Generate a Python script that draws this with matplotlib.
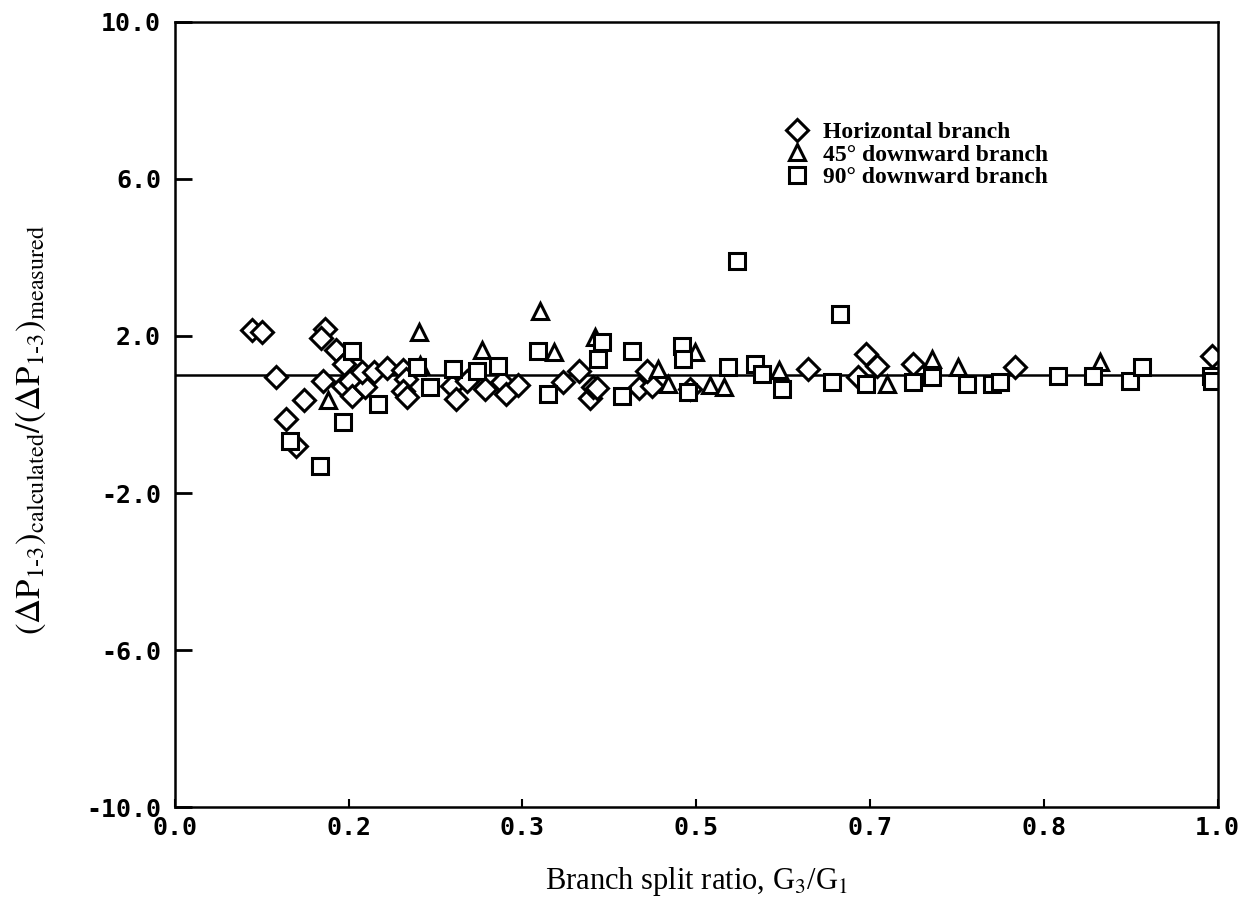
import matplotlib
matplotlib.use("Agg")
import matplotlib.pyplot as plt
import numpy as np

plt.rcParams['mathtext.fontset'] = 'stix'

# Horizontal branch
horiz_x = [0.074, 0.084, 0.097, 0.107, 0.116, 0.124, 0.142, 0.144, 0.140, 0.155,
           0.162, 0.161, 0.168, 0.170, 0.182, 0.179, 0.191, 0.203, 0.219, 0.222,
           0.219, 0.223, 0.266, 0.270, 0.280, 0.297, 0.314, 0.318, 0.329, 0.372,
           0.388, 0.398, 0.401, 0.405, 0.445, 0.458, 0.453, 0.494, 0.607, 0.655,
           0.663, 0.673, 0.708, 0.806, 0.995]
horiz_y = [2.15, 2.10, 0.95, -0.12, -0.79, 0.36, 0.85, 2.17, 1.94, 1.64,
           1.28, 0.72, 0.85, 0.46, 0.69, 1.08, 1.08, 1.18, 1.13, 0.90,
           0.59, 0.44, 0.72, 0.39, 0.85, 0.64, 0.82, 0.52, 0.74, 0.82,
           1.10, 0.41, 0.69, 0.67, 0.67, 0.72, 1.10, 0.64, 1.15, 0.95,
           1.54, 1.23, 1.28, 1.20, 1.48]

# 45 deg downward branch
down45_x = [0.147, 0.234, 0.235, 0.295, 0.350, 0.364, 0.403, 0.463, 0.473, 0.499,
            0.513, 0.527, 0.579, 0.683, 0.726, 0.751, 0.887]
down45_y = [0.36, 2.10, 1.26, 1.64, 2.63, 1.59, 1.97, 1.15, 0.77, 1.59,
            0.74, 0.69, 1.13, 0.77, 1.41, 1.20, 1.33]

# 90 deg downward branch
down90_x = [0.110, 0.139, 0.161, 0.170, 0.195, 0.232, 0.245, 0.267, 0.290, 0.310,
            0.348, 0.358, 0.406, 0.410, 0.438, 0.429, 0.486, 0.487, 0.492, 0.530,
            0.539, 0.556, 0.563, 0.582, 0.630, 0.638, 0.663, 0.708, 0.726, 0.760,
            0.784, 0.791, 0.847, 0.880, 0.916, 0.927, 0.994, 0.995]
down90_y = [-0.68, -1.30, -0.20, 1.61, 0.26, 1.20, 0.69, 1.15, 1.10, 1.23,
            1.61, 0.52, 1.41, 1.84, 1.61, 0.46, 1.74, 1.41, 0.57, 1.20,
            3.91, 1.28, 1.03, 0.64, 0.82, 2.56, 0.77, 0.82, 0.95, 0.77,
            0.77, 0.82, 0.97, 0.97, 0.85, 1.20, 0.97, 0.85]

xticks = [0, 1/6, 2/6, 3/6, 4/6, 5/6, 1.0]
xtick_labels = ['0.0', '0.2', '0.3', '0.5', '0.7', '0.8', '1.0']
yticks = [-10, -6, -2, 2, 6, 10]
ytick_labels = ['-10.0', '-6.0', '-2.0', '2.0', '6.0', '10.0']

fig = plt.figure(figsize=(12.4, 9.05), dpi=100)
ax = fig.add_axes([0.141, 0.108, 0.841, 0.868])

mk = dict(linestyle='none', markerfacecolor='white', markeredgecolor='black',
          markeredgewidth=2.2)
ax.plot(horiz_x, horiz_y, marker='D', markersize=11.5, label='Horizontal branch', **mk)
ax.plot(down45_x, down45_y, marker='^', markersize=11, label='45° downward branch', **mk)
ax.plot(down90_x, down90_y, marker='s', markersize=12, label='90° downward branch', **mk)

ax.axhline(1.0, color='black', lw=1.8, zorder=1)

ax.set_xlim(0, 1.0)
ax.set_ylim(-10, 10)
ax.set_xticks(xticks)
ax.set_xticklabels(xtick_labels)
ax.set_yticks(yticks)
ax.set_yticklabels(ytick_labels)
for lbl in ax.get_xticklabels() + ax.get_yticklabels():
    lbl.set_family('DejaVu Sans Mono')
    lbl.set_fontsize(18)
    lbl.set_fontweight('bold')
ax.tick_params(axis='y', direction='in', length=12, width=2, pad=10)
ax.tick_params(axis='x', direction='in', length=6, width=1.5, pad=6)
for sp in ax.spines.values():
    sp.set_linewidth(1.8)

ax.set_xlabel(r'Branch split ratio, G$_3$/G$_1$', fontsize=22,
              family='Liberation Serif', labelpad=18)
ax.set_ylabel(r'$(\Delta\mathrm{P}_{1\text{-}3})_{\mathrm{calculated}}/(\Delta\mathrm{P}_{1\text{-}3})_{\mathrm{measured}}$',
              fontsize=25)
ax.yaxis.set_label_coords(-0.122, 0.48)

leg = ax.legend(loc='upper left', bbox_to_anchor=(0.565, 0.90), frameon=False,
                handletextpad=0.6, labelspacing=0.05, handlelength=1.0,
                prop={'family': 'Liberation Serif', 'weight': 'bold', 'size': 17})

fig.savefig('out.png', dpi=100)
